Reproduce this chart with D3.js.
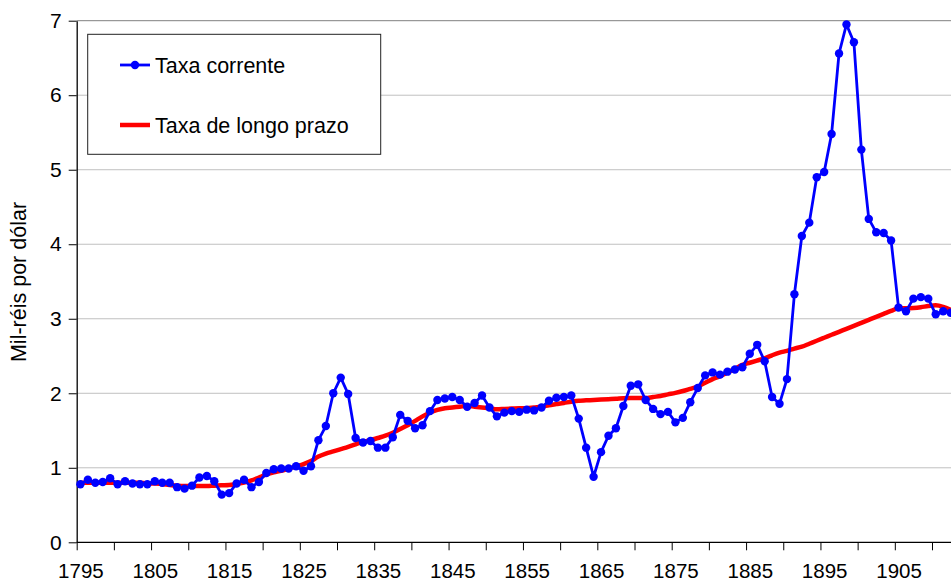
<!DOCTYPE html>
<html>
<head>
<meta charset="utf-8">
<script src="https://cdn.jsdelivr.net/npm/d3@7"></script>
<style>
  body { margin: 0; background: #fff; }
  text { font-family: "Liberation Sans", Arial, sans-serif; }
</style>
</head>
<body>
<div class="container"></div>
<script>
// years of the series
const firstYear = 1795;
const lastYear = 1912;
const years = d3.range(firstYear, lastYear + 1);

// Taxa corrente (mil-réis per dollar), 1795..1912
const taxaCorrente = [
  0.78, 0.84, 0.80, 0.81, 0.86, 0.78, 0.82, 0.79, 0.78, 0.78,
  0.82, 0.80, 0.80, 0.74, 0.72, 0.76, 0.87, 0.89, 0.82, 0.64,
  0.66, 0.79, 0.84, 0.74, 0.81, 0.93, 0.98, 0.99, 0.99, 1.02,
  0.96, 1.02, 1.37, 1.56, 2.00, 2.21, 1.99, 1.40, 1.34, 1.36,
  1.27, 1.27, 1.41, 1.71, 1.63, 1.53, 1.57, 1.76, 1.91, 1.93,
  1.95, 1.91, 1.82, 1.87, 1.97, 1.81, 1.69, 1.74, 1.76, 1.75,
  1.78, 1.77, 1.81, 1.90, 1.94, 1.95, 1.97, 1.66, 1.27, 0.88,
  1.21, 1.43, 1.53, 1.83, 2.10, 2.12, 1.91, 1.79, 1.72, 1.75,
  1.61, 1.67, 1.88, 2.07, 2.24, 2.28, 2.25, 2.29, 2.32, 2.35,
  2.53, 2.65, 2.43, 1.95, 1.86, 2.19, 3.33, 4.11, 4.29, 4.90,
  4.97, 5.48, 6.56, 6.95, 6.71, 5.27, 4.34, 4.16, 4.15, 4.05,
  3.15, 3.10, 3.27, 3.29, 3.27, 3.06, 3.10, 3.08
];

// Taxa de longo prazo, 1795..1912
const taxaLongoPrazo = [
  0.80, 0.80, 0.80, 0.80, 0.80, 0.80, 0.80, 0.80, 0.80, 0.79,
  0.79, 0.78, 0.77, 0.76, 0.755, 0.755, 0.755, 0.755, 0.76, 0.765,
  0.77, 0.78, 0.80, 0.83, 0.87, 0.91, 0.94, 0.96, 0.99, 1.02,
  1.05, 1.09, 1.15, 1.19, 1.22, 1.25, 1.28, 1.315, 1.35, 1.37,
  1.40, 1.43, 1.47, 1.52, 1.57, 1.63, 1.69, 1.74, 1.776, 1.80,
  1.81, 1.82, 1.83, 1.82, 1.81, 1.80, 1.785, 1.79, 1.795, 1.80,
  1.80, 1.81, 1.82, 1.84, 1.855, 1.87, 1.887, 1.90, 1.905, 1.91,
  1.915, 1.92, 1.925, 1.933, 1.935, 1.935, 1.935, 1.95, 1.964, 1.985,
  2.005, 2.03, 2.06, 2.09, 2.14, 2.19, 2.23, 2.28, 2.33, 2.38,
  2.41, 2.44, 2.47, 2.51, 2.545, 2.57, 2.60, 2.625, 2.665, 2.705,
  2.745, 2.785, 2.825, 2.865, 2.905, 2.945, 2.985, 3.025, 3.065, 3.105,
  3.14, 3.14, 3.145, 3.155, 3.17, 3.18, 3.16, 3.12
];

const yTicks = [0, 1, 2, 3, 4, 5, 6, 7];
const xTicks = d3.range(1795, 1915, 5);
const legendLabels = ["Taxa corrente", "Taxa de longo prazo"];
const yTitle = "Mil-réis por dólar";

const width = 951, height = 582;

const svg = d3.select(".container")
    .append("svg")
    .attr("width", width)
    .attr("height", height);

// scales
const x = d3.scaleLinear()
    .domain([1795, 1910])
    .range([76.7, 932]);
const half = (x(1796) - x(1795)) / 2;   // points sit in the middle of each year

const y = d3.scaleLinear()
    .domain([0, 7])
    .range([542.3, 20.7]);

// gridlines
svg.append("g")
    .selectAll("line")
    .data(yTicks.filter(d => d > 0))
    .enter()
    .append("line")
    .attr("x1", x(1795))
    .attr("x2", width)
    .attr("y1", d => y(d))
    .attr("y2", d => y(d))
    .attr("stroke", d => d === 7 ? "#808080" : "#c0c0c0")
    .attr("stroke-width", 1);

// y axis
const yAxis = d3.axisLeft(y)
    .tickValues(yTicks)
    .tickFormat(d3.format("d"))
    .tickSize(8)
    .tickSizeOuter(0)
    .tickPadding(7);
const gy = svg.append("g")
    .attr("transform", `translate(${x(1795)},0)`)
    .call(yAxis);
gy.select(".domain").attr("stroke", "#000").attr("stroke-width", 1.3);
gy.selectAll(".tick line").attr("stroke", "#000");
gy.selectAll("text")
    .attr("font-size", "21px")
    .attr("fill", "#000")
    .style("font-family", "'Liberation Sans', Arial, sans-serif");

// x axis
const xAxis = d3.axisBottom(x)
    .tickValues(xTicks)
    .tickSize(8)
    .tickSizeOuter(0)
    .tickFormat(d => (d - 1795) % 10 === 0 ? d : "");
const gx = svg.append("g")
    .attr("transform", `translate(0,${y(0)})`)
    .call(xAxis);
gx.select(".domain").attr("d", `M${x(1795)},0H${width}`).attr("stroke", "#000").attr("stroke-width", 1.3);
gx.selectAll(".tick line").attr("stroke", "#000");
gx.selectAll("text")
    .attr("x", half)
    .attr("y", 36)
    .attr("dy", null)
    .attr("font-size", "20.5px")
    .attr("fill", "#000")
    .style("font-family", "'Liberation Sans', Arial, sans-serif");

// y title
svg.append("text")
    .attr("transform", "translate(26,282) rotate(-90)")
    .attr("text-anchor", "middle")
    .attr("font-size", "21.5px")
    .attr("fill", "#000")
    .text(yTitle);

// long-term line
const lineLong = d3.line()
    .x((d, i) => x(years[i]) + half)
    .y(d => y(d))
    .curve(d3.curveMonotoneX);

svg.append("path")
    .datum(taxaLongoPrazo)
    .attr("d", lineLong)
    .attr("fill", "none")
    .attr("stroke", "#ff0000")
    .attr("stroke-width", 4.5)
    .attr("stroke-linejoin", "round");

// current rate line and dots
const lineCur = d3.line()
    .x((d, i) => x(years[i]) + half)
    .y(d => y(d));

svg.append("path")
    .datum(taxaCorrente)
    .attr("d", lineCur)
    .attr("fill", "none")
    .attr("stroke", "#0000ff")
    .attr("stroke-width", 2.8)
    .attr("stroke-linejoin", "round");

svg.append("g")
    .selectAll("circle")
    .data(taxaCorrente)
    .enter()
    .append("circle")
    .attr("cx", (d, i) => x(years[i]) + half)
    .attr("cy", d => y(d))
    .attr("r", 4.2)
    .attr("fill", "#0000ff");

// legend
const legend = svg.append("g");
legend.append("rect")
    .attr("x", 87.7)
    .attr("y", 34.3)
    .attr("width", 293)
    .attr("height", 120)
    .attr("fill", "#fff")
    .attr("stroke", "#222")
    .attr("stroke-width", 1);

legend.append("line")
    .attr("x1", 120).attr("x2", 150)
    .attr("y1", 65).attr("y2", 65)
    .attr("stroke", "#0000ff")
    .attr("stroke-width", 2.8);
legend.append("circle")
    .attr("cx", 135).attr("cy", 65).attr("r", 4.2)
    .attr("fill", "#0000ff");
legend.append("text")
    .attr("x", 155).attr("y", 72.5)
    .attr("font-size", "21.5px")
    .text(legendLabels[0]);

legend.append("line")
    .attr("x1", 120).attr("x2", 150)
    .attr("y1", 125).attr("y2", 125)
    .attr("stroke", "#ff0000")
    .attr("stroke-width", 4.5);
legend.append("text")
    .attr("x", 155).attr("y", 132.5)
    .attr("font-size", "21.5px")
    .text(legendLabels[1]);
</script>
</body>
</html>
